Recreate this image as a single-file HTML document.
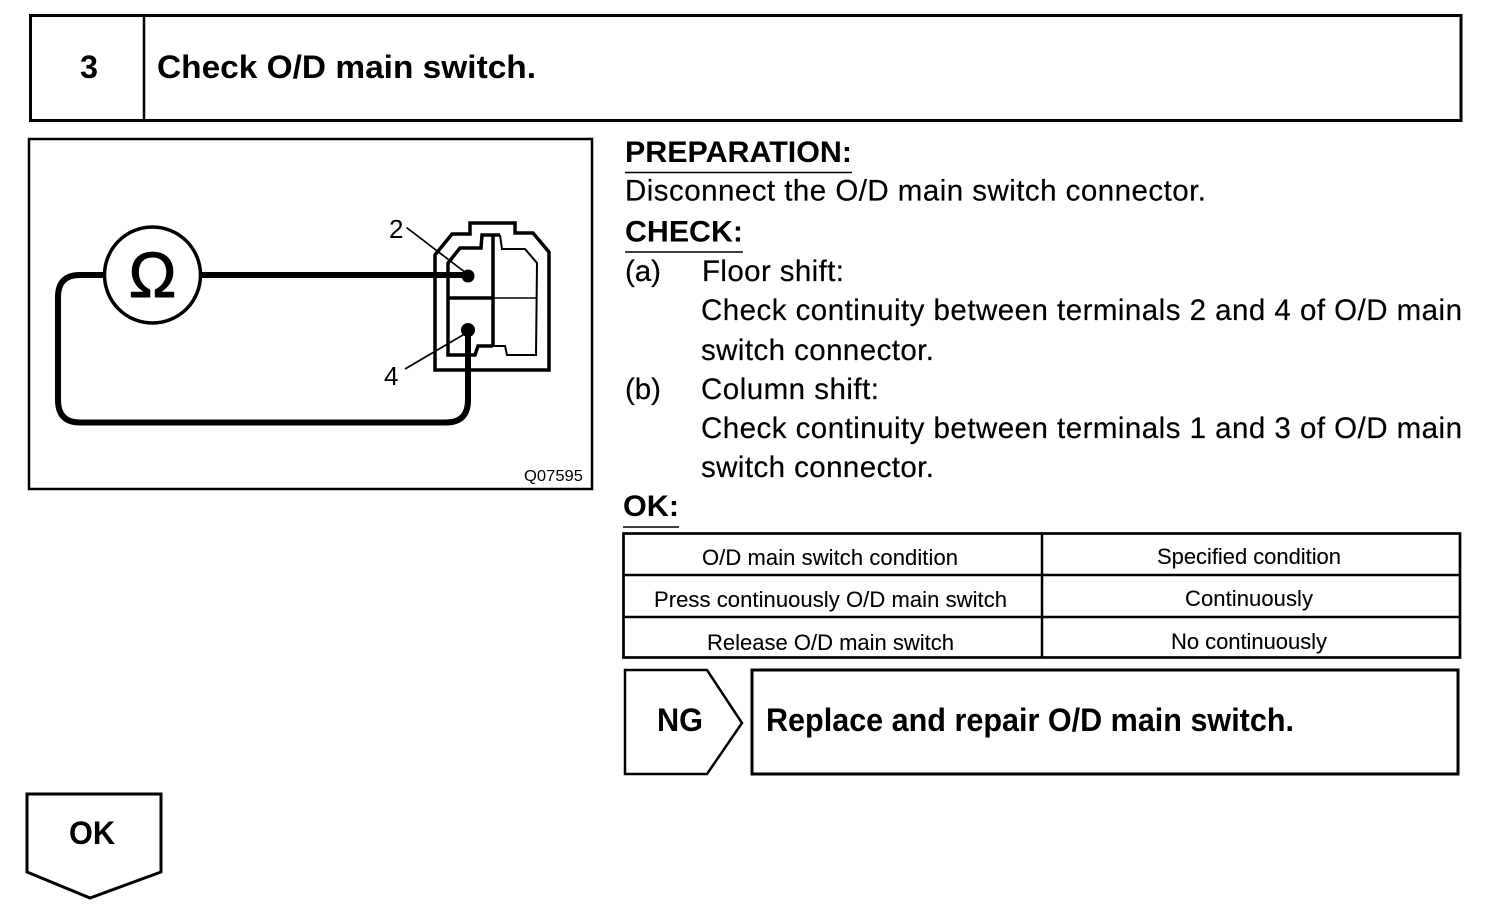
<!DOCTYPE html>
<html>
<head>
<meta charset="utf-8">
<style>
html,body{margin:0;padding:0;background:#fff;width:1504px;height:916px;overflow:hidden}
svg{display:block}
text{font-family:"Liberation Sans",sans-serif;fill:#000}
.b{font-size:29.5px;stroke:#000;stroke-width:.2}
.h{font-size:30px;font-weight:bold}
.t{font-size:22px;stroke:#000;stroke-width:.1}
.x{font-size:32px;font-weight:bold}
</style>
</head>
<body>
<svg width="1504" height="916" viewBox="0 0 1504 916" xmlns="http://www.w3.org/2000/svg">
<rect width="1504" height="916" fill="#fff"/>
<g fill="none" stroke="#000">
  <!-- header -->
  <rect x="30.5" y="15.5" width="1430.5" height="105" stroke-width="3"/>
  <line x1="144" y1="15" x2="144" y2="121" stroke-width="2.5"/>
  <!-- figure frame -->
  <rect x="29" y="139" width="563" height="350" stroke-width="2.5"/>
  <!-- table -->
  <rect x="623.5" y="533.5" width="836.5" height="124" stroke-width="2.7"/>
  <line x1="623" y1="575" x2="1460" y2="575" stroke-width="2.5"/>
  <line x1="623" y1="617" x2="1460" y2="617" stroke-width="2.5"/>
  <line x1="1042" y1="533" x2="1042" y2="658" stroke-width="2.5"/>
  <!-- NG -->
  <polygon points="625,670 707,670 742,723 707,774 625,774" stroke-width="2.5"/>
  <rect x="752" y="670" width="706" height="104" stroke-width="3"/>
  <!-- OK -->
  <polygon points="27,794 161,794 161,872 90,898 27,872" stroke-width="3"/>
  <!-- underlines -->
  <line x1="625" y1="172.500" x2="852" y2="172.500" stroke-width="1.500"/>
  <line x1="625" y1="252" x2="743" y2="252" stroke-width="1.500"/>
  <line x1="623" y1="527" x2="679" y2="527" stroke-width="1.500"/>
  <!-- wires -->
  <circle cx="152.500" cy="275" r="48" stroke-width="3.500"/>
  <line x1="200" y1="275" x2="468" y2="275" stroke-width="6"/>
  <path d="M104 275H80Q58 275 58 297V400Q58 422.500 80 422.500H446Q468 422.500 468 400V330" stroke-width="6"/>
  <!-- connector -->
  <path d="M435 255L452 234H470V223H515V233H533L549 252V370H435Z" stroke-width="3.500"/>
  <path d="M500 235H482L481 248H460L448 263V355H475L478 346H493" stroke-width="3.500"/>
  <path d="M500 235L502 249H525L537 263L536 355H507L505 346H493" stroke-width="2"/>
  <line x1="493" y1="234" x2="493" y2="346" stroke-width="3.500"/>
  <line x1="448" y1="298" x2="493" y2="298" stroke-width="3.500"/>
  <line x1="493" y1="298" x2="537" y2="298" stroke-width="1.500"/>
  <line x1="406.500" y1="227.500" x2="466" y2="273" stroke-width="1.700"/>
  <line x1="405" y1="369" x2="468" y2="332" stroke-width="1.700"/>
</g>
<circle cx="468" cy="276" r="6.500"/>
<circle cx="468" cy="330" r="7"/>

<text x="80" y="78" class="x" textLength="18" lengthAdjust="spacingAndGlyphs">3</text>
<text x="157" y="78" class="x" textLength="379" lengthAdjust="spacingAndGlyphs">Check O/D main switch.</text>

<text x="152.500" y="297" font-size="64" text-anchor="middle" stroke="#000" stroke-width="1">Ω</text>
<text x="389" y="238" font-size="26">2</text>
<text x="384" y="385" font-size="26">4</text>
<text x="524" y="481" font-size="15.500" textLength="59" lengthAdjust="spacingAndGlyphs">Q07595</text>

<text x="625" y="162" class="h" textLength="227" lengthAdjust="spacingAndGlyphs">PREPARATION:</text>
<text x="625" y="200.500" class="b" textLength="581" lengthAdjust="spacing">Disconnect the O/D main switch connector.</text>
<text x="625" y="241.500" class="h" textLength="118" lengthAdjust="spacingAndGlyphs">CHECK:</text>
<text x="625" y="281" class="b" textLength="36" lengthAdjust="spacing">(a)</text>
<text x="702" y="281" class="b" textLength="142" lengthAdjust="spacing">Floor shift:</text>
<text x="701" y="320" class="b" textLength="761" lengthAdjust="spacing">Check continuity between terminals 2 and 4 of O/D main</text>
<text x="701" y="360" class="b" textLength="233" lengthAdjust="spacing">switch connector.</text>
<text x="625" y="399" class="b" textLength="36" lengthAdjust="spacing">(b)</text>
<text x="701" y="399" class="b" textLength="178" lengthAdjust="spacing">Column shift:</text>
<text x="701" y="438" class="b" textLength="761" lengthAdjust="spacing">Check continuity between terminals 1 and 3 of O/D main</text>
<text x="701" y="477" class="b" textLength="233" lengthAdjust="spacing">switch connector.</text>
<text x="623" y="516" class="h" textLength="56" lengthAdjust="spacingAndGlyphs">OK:</text>

<text x="702" y="565" class="t" textLength="256" lengthAdjust="spacing">O/D main switch condition</text>
<text x="654" y="607" class="t" textLength="353" lengthAdjust="spacing">Press continuously O/D main switch</text>
<text x="707" y="650" class="t" textLength="247" lengthAdjust="spacing">Release O/D main switch</text>
<text x="1157" y="564" class="t" textLength="184" lengthAdjust="spacing">Specified condition</text>
<text x="1185" y="606" class="t" textLength="128" lengthAdjust="spacing">Continuously</text>
<text x="1171" y="649" class="t" textLength="156" lengthAdjust="spacing">No continuously</text>

<text x="657" y="731" class="x" textLength="46" lengthAdjust="spacingAndGlyphs">NG</text>
<text x="766" y="731" class="x" textLength="528" lengthAdjust="spacingAndGlyphs">Replace and repair O/D main switch.</text>
<text x="69" y="844" class="x" textLength="46" lengthAdjust="spacingAndGlyphs">OK</text>
</svg>
</body>
</html>
